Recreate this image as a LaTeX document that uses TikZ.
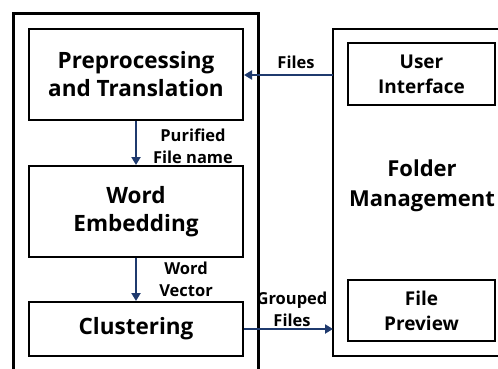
\documentclass[tikz,border=0pt]{standalone}
\usepackage{fontspec}
\setmainfont{Open Sans}
\usetikzlibrary{arrows.meta}
\definecolor{navy}{HTML}{1F3A6E}
\begin{document}
\begin{tikzpicture}[x=1pt,y=-1pt,
  box/.style={draw, line width=2pt, inner sep=0pt, font=\bfseries\fontsize{22.5}{28}\selectfont, align=center},
  sbox/.style={draw, line width=2pt, inner sep=0pt, font=\bfseries\fontsize{19}{25}\selectfont, align=center},
  lbl/.style={font=\bfseries\fontsize{16.5}{22}\selectfont, align=center, inner sep=0pt},
  big/.style={font=\bfseries\fontsize{22}{30}\selectfont, align=center, inner sep=0pt},
  conn/.style={draw=navy, line width=2.6pt, -{Triangle[length=8pt,width=9pt]}}]
\useasboundingbox (0,0) rectangle (498,369);
\clip (0,0) rectangle (498,369);
% outer frames
\draw[line width=3pt] (13,375) -- (13,14) -- (258,14) -- (258,375);
\draw[line width=1.8pt] (505,29) -- (333,29) -- (333,356) -- (505,356);
\coordinate (rl1) at (333,75);
\coordinate (rl2) at (333,329);
% left boxes
\node[box, minimum width=214pt, minimum height=91pt] (pre) at (136,74.5) {Preprocessing\\and Translation};
\node[box, minimum width=214pt, minimum height=91pt] (emb) at (136,211.5) {Word\\Embedding};
\node[box, minimum width=214pt, minimum height=54pt] (clu) at (136,329) {Clustering};
% right boxes
\node[sbox, minimum width=147pt, minimum height=62pt] (ui) at (421.5,74) {User\\Interface};
\node[sbox, minimum width=147pt, minimum height=61pt] (fp) at (421.5,310.5) {File\\Preview};
\node[big] (fm) at (422,186) {Folder\\Management};
% connectors
\draw[conn] (pre.south) -- (emb.north);
\draw[conn] (emb.south) -- (clu.north);
\draw[conn] (rl1) -- (rl1 -| pre.east);
\draw[conn] (clu.east) -- (rl2);
% labels
\node[lbl] (l1) at (193,146) {Purified\\File name};
\node[lbl] (l2) at (186,279) {Word\\Vector};
\node[lbl] (l3) at (296,62) {Files};
\node[lbl] (l4) at (292,309) {Grouped\\Files};
\end{tikzpicture}
\end{document}
